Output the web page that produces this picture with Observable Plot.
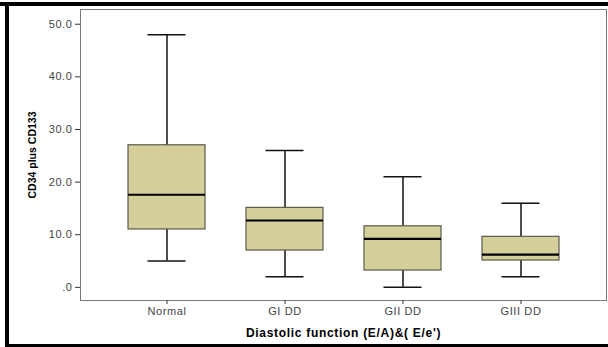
<!DOCTYPE html>
<html>
<head>
<meta charset="utf-8">
<script src="https://cdn.jsdelivr.net/npm/d3@7"></script>
<script src="https://cdn.jsdelivr.net/npm/@observablehq/plot@0.6"></script>
<style>
  html, body { margin: 0; padding: 0; background: #fff; }
  #wrap { position: relative; width: 608px; height: 347px; overflow: hidden; }
  #wrap svg { position: absolute; left: 0; top: 0; }
  .bar { position: absolute; background: #000; }
</style>
</head>
<body>
<div id="wrap"></div>
<script>
const categories = ["Normal", "GI DD", "GII DD", "GIII DD"];
const whiskerLow = [5, 2, 0, 2];
const q1 = [11, 7, 3.2, 5.1];
const median = [17.6, 12.7, 9.2, 6.2];
const q3 = [27, 15.1, 11.6, 9.6];
const whiskerHigh = [48, 26, 21, 16];
const yTicks = [0, 10, 20, 30, 40, 50];

const rows = categories.map((c, i) => ({
  cat: c, lo: whiskerLow[i], q1: q1[i], med: median[i], q3: q3[i], hi: whiskerHigh[i]
}));

const chart = Plot.plot({
  width: 608,
  height: 347,
  marginLeft: 80,
  marginRight: 2,
  marginTop: 9,
  marginBottom: 47,
  style: { fontFamily: "'Liberation Sans', Arial, sans-serif", fontSize: "11px", background: "#fff" },
  x: { type: "band", domain: categories, paddingInner: 0.349, paddingOuter: 0.397 },
  y: { domain: [-2.5, 52.8] },
  marks: [
    Plot.frame({ stroke: "#777", strokeWidth: 1 }),
    Plot.axisY({
      ticks: yTicks,
      tickFormat: d => d === 0 ? ".0" : d.toFixed(1),
      tickSize: 5,
      tickPadding: 3,
      stroke: "#333",
      color: "#444",
      label: "CD34 plus CD133",
      labelAnchor: "center",
      labelOffset: 52,
      labelArrow: "none"
    }),
    Plot.axisX({
      tickSize: 4,
      tickPadding: 3,
      stroke: "#333",
      color: "#444",
      label: "Diastolic function (E/A)&( E/e')",
      labelAnchor: "center",
      labelOffset: 36,
      labelArrow: "none"
    }),
    Plot.ruleX(rows, { x: "cat", y1: "lo", y2: "hi", stroke: "#111", strokeWidth: 1.5 }),
    Plot.tickY(rows, { x: "cat", y: "lo", stroke: "#111", strokeWidth: 1.5, insetLeft: 19.5, insetRight: 19.5 }),
    Plot.tickY(rows, { x: "cat", y: "hi", stroke: "#111", strokeWidth: 1.5, insetLeft: 19.5, insetRight: 19.5 }),
    Plot.rectY(rows, { x: "cat", y1: "q1", y2: "q3", fill: "#d4cf9b", stroke: "#5a5a4a", strokeWidth: 1.2 }),
    Plot.tickY(rows, { x: "cat", y: "med", stroke: "#000", strokeWidth: 2.2 })
  ]
});

// tick label spacing (reference text is slightly wide)
chart.querySelectorAll("g[aria-label='y-axis tick label'], g[aria-label='x-axis tick label']").forEach(g => {
  g.setAttribute("letter-spacing", "0.6");
});
// bold axis titles
chart.querySelectorAll("g[aria-label='y-axis label'] text, g[aria-label='x-axis label'] text").forEach(t => {
  t.setAttribute("font-weight", "bold");
  t.setAttribute("fill", "#000");
});
chart.querySelectorAll("g[aria-label='y-axis label']").forEach(g => g.setAttribute("font-size", "10.5"));
chart.querySelectorAll("g[aria-label='x-axis label']").forEach(g => {
  g.setAttribute("font-size", "12");
  g.setAttribute("letter-spacing", "0.7");
});

const wrap = document.getElementById("wrap");
wrap.appendChild(chart);
function bar(l, t, w, h) {
  const d = document.createElement("div");
  d.className = "bar";
  Object.assign(d.style, { left: l + "px", top: t + "px", width: w + "px", height: h + "px" });
  wrap.appendChild(d);
}
bar(0, 2, 608, 4);    // top
bar(5, 2, 4, 345);    // left
bar(5, 344, 603, 3);  // bottom
</script>
</body>
</html>
